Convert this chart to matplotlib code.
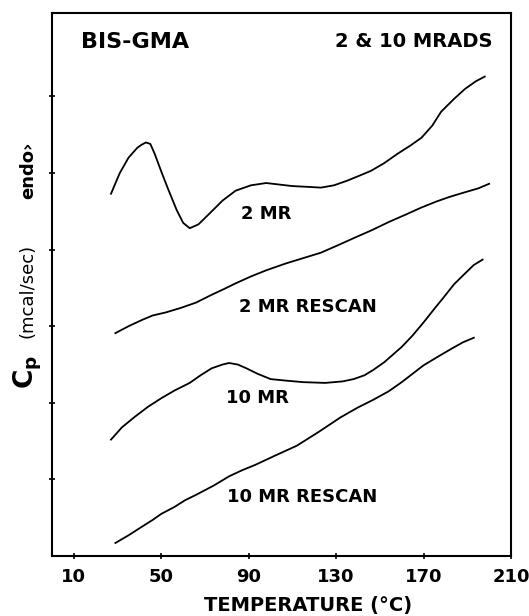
# DSC scans of BIS-GMA after 2 and 10 Mrad irradiation
import numpy as np
from matplotlib import pyplot as plt

# 2 MR scan
temp_2mr = [27, 31, 35, 39, 41, 43, 45, 47, 50, 53, 57, 60, 63, 67, 72, 78, 84, 91, 98, 104,
            110, 117, 123, 129, 135, 141, 146, 152, 158, 164, 169, 174, 178, 184, 189, 194, 198]
cp_2mr = [4.73, 5.0, 5.2, 5.33, 5.37, 5.40, 5.38, 5.25, 5.02, 4.8, 4.52, 4.35, 4.28, 4.33,
          4.47, 4.64, 4.77, 4.84, 4.87, 4.85, 4.83, 4.82, 4.81, 4.84, 4.90, 4.97, 5.03, 5.13,
          5.25, 5.36, 5.46, 5.62, 5.8, 5.97, 6.10, 6.2, 6.26]

# 2 MR rescan
temp_2mr_re = [29, 35, 41, 46, 52, 59, 66, 73, 79, 84, 91, 98, 103, 107, 115, 123, 131,
               138, 146, 154, 162, 169, 176, 182, 189, 195, 200]
cp_2mr_re = [2.91, 3.0, 3.08, 3.14, 3.18, 3.24, 3.31, 3.41, 3.49, 3.56, 3.65, 3.73, 3.78,
             3.82, 3.89, 3.96, 4.06, 4.15, 4.25, 4.36, 4.46, 4.55, 4.63, 4.69, 4.75, 4.8, 4.86]

# 10 MR scan
temp_10mr = [27, 32, 38, 44, 50, 56, 63, 68, 73, 78, 81, 85, 89, 94, 100, 107, 115, 125,
             133, 138, 143, 147, 152, 156, 160, 165, 170, 175, 179, 184, 189, 193, 197]
cp_10mr = [1.52, 1.68, 1.82, 1.95, 2.06, 2.16, 2.26, 2.36, 2.45, 2.5, 2.52, 2.5, 2.45, 2.38,
           2.31, 2.29, 2.27, 2.26, 2.28, 2.31, 2.36, 2.43, 2.53, 2.63, 2.73, 2.88, 3.05,
           3.23, 3.37, 3.55, 3.69, 3.8, 3.87]

# 10 MR rescan
temp_10mr_re = [29, 35, 41, 46, 50, 56, 61, 66, 74, 81, 87, 93, 102, 112, 122, 132, 140,
                147, 154, 160, 165, 170, 177, 183, 188, 193]
cp_10mr_re = [0.17, 0.27, 0.38, 0.47, 0.55, 0.64, 0.73, 0.8, 0.92, 1.04, 1.12, 1.19, 1.31,
              1.44, 1.62, 1.81, 1.94, 2.04, 2.15, 2.27, 2.38, 2.49, 2.61, 2.71, 2.79, 2.85]

list_label = ['2 MR', '2 MR RESCAN', '10 MR', '10 MR RESCAN']
list_label_pos = [(98, 4.47), (117, 3.25), (94, 2.06), (114.5, 0.77)]
list_xtick = [10, 50, 90, 130, 170, 210]
list_ytick = [1, 2, 3, 4, 5, 6]

W, H = 529, 616
fig = plt.figure(figsize=(W / 100, H / 100), dpi=100)
ax = fig.add_axes([52 / W, (H - 556) / H, (511 - 52) / W, (556 - 13) / H])

for t, c in [(temp_2mr, cp_2mr), (temp_2mr_re, cp_2mr_re),
             (temp_10mr, cp_10mr), (temp_10mr_re, cp_10mr_re)]:
    ax.plot(t, c, c='black', linewidth=1.3, solid_joinstyle='round')

for lab, (x, y) in zip(list_label, list_label_pos):
    ax.text(x, y, lab, ha='center', va='center', fontsize=13, fontweight='bold')

ax.text(0.063, 0.947, 'BIS-GMA', transform=ax.transAxes, ha='left', va='center',
        fontsize=16, fontweight='bold')
ax.text(0.959, 0.947, '2 & 10 MRADS', transform=ax.transAxes, ha='right', va='center',
        fontsize=14, fontweight='bold')

ax.set_xlim(0, 210)
ax.set_ylim(0, 7.09)
ax.set_xticks(list_xtick)
ax.set_xticklabels([str(v) for v in list_xtick], fontsize=13, fontweight='bold')
ax.set_yticks(list_ytick)
ax.tick_params(axis='both', direction='inout', length=5, width=1.2, pad=6)
ax.tick_params(axis='y', labelleft=False)
for sp in ax.spines.values():
    sp.set_linewidth(1.5)

# axis titles
fig.text(308 / W, 1 - 605 / H, 'TEMPERATURE (°C)', ha='center', va='center',
         fontsize=14, fontweight='bold')
fig.text(33 / W, 1 - 372 / H, r'$\mathbf{C_p}$', rotation=90, rotation_mode='anchor',
         ha='center', va='baseline', fontsize=19)
fig.text(33 / W, 1 - 291 / H, '(mcal/sec)', rotation=90, rotation_mode='anchor',
         ha='center', va='baseline', fontsize=13)
fig.text(33 / W, 1 - 170 / H, 'endo›', rotation=90, rotation_mode='anchor',
         ha='center', va='baseline', fontsize=13, fontweight='bold')

fig.savefig('out.png', dpi=100)
